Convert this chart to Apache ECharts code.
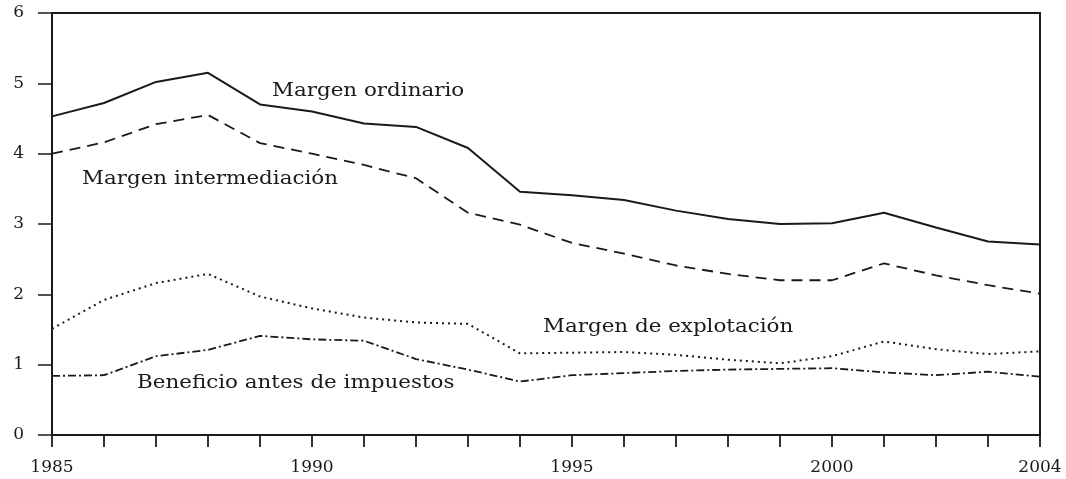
<!DOCTYPE html>
<html>
<head>
<meta charset="utf-8">
<script src="https://cdn.jsdelivr.net/npm/echarts@6/dist/echarts.min.js"></script>
<style>
html, body { margin: 0; padding: 0; background: #fff; }
#chart { width: 1066px; height: 479px; }
</style>
</head>
<body>
<div id="chart"></div>
<script>
const years = ['1985', '1986', '1987', '1988', '1989', '1990', '1991', '1992', '1993', '1994',
  '1995', '1996', '1997', '1998', '1999', '2000', '2001', '2002', '2003', '2004'];
const margenOrdinario = [4.53, 4.72, 5.02, 5.15, 4.70, 4.60, 4.43, 4.38, 4.08, 3.46,
  3.41, 3.34, 3.19, 3.07, 3.00, 3.01, 3.16, 2.95, 2.75, 2.71];
const margenIntermediacion = [4.00, 4.16, 4.42, 4.55, 4.15, 4.00, 3.84, 3.65, 3.16, 2.99,
  2.73, 2.58, 2.41, 2.29, 2.20, 2.20, 2.44, 2.27, 2.13, 2.01];
const margenExplotacion = [1.51, 1.92, 2.16, 2.29, 1.97, 1.80, 1.67, 1.60, 1.58, 1.16,
  1.17, 1.18, 1.14, 1.07, 1.02, 1.12, 1.33, 1.22, 1.15, 1.19];
const beneficioAntesImpuestos = [0.84, 0.85, 1.12, 1.21, 1.41, 1.36, 1.34, 1.08, 0.93, 0.76,
  0.85, 0.88, 0.91, 0.93, 0.94, 0.95, 0.89, 0.85, 0.90, 0.83];
const yTicks = [0, 1, 2, 3, 4, 5, 6];

const ink = '#1a1a1a';
const serif = 'DejaVu Serif';

const chart = echarts.init(document.getElementById('chart'));

function line(name, data, type, width) {
  return {
    name, type: 'line', data,
    symbol: 'none',
    lineStyle: { color: ink, width, type }
  };
}

// series names written straight on the plot, stretched a bit like the scan
function note(text, x, y) {
  return {
    type: 'text', x, y, scaleX: 1.19,
    style: { text, x: 0, y: 0, fill: ink, font: '18px "' + serif + '"', verticalAlign: 'top' }
  };
}

chart.setOption({
  animation: false,
  backgroundColor: '#fff',
  grid: {
    left: 52, right: 26, top: 13, bottom: 44,
    show: true, borderColor: ink, borderWidth: 2,
    outerBoundsMode: 'none'
  },
  xAxis: {
    type: 'category',
    data: years,
    boundaryGap: false,
    axisLine: { lineStyle: { color: ink, width: 2 } },
    axisTick: { show: true, interval: 0, length: 12, lineStyle: { color: ink, width: 1.8 } },
    axisLabel: {
      interval: (i) => i % 5 === 0 || i === years.length - 1,
      margin: 24, color: ink, fontFamily: serif, fontSize: 17
    },
    splitLine: { show: false }
  },
  yAxis: {
    type: 'value',
    min: yTicks[0], max: yTicks[yTicks.length - 1], interval: 1,
    axisLine: { show: true, lineStyle: { color: ink, width: 2 } },
    axisTick: { show: true, length: 14, lineStyle: { color: ink, width: 1.5 } },
    axisLabel: { margin: 28, color: ink, fontFamily: serif, fontSize: 17 },
    splitLine: { show: false }
  },
  graphic: [
    note('Margen ordinario', 272, 82),
    note('Margen intermediación', 82, 170),
    note('Margen de explotación', 543, 318),
    note('Beneficio antes de impuestos', 137, 374)
  ],
  series: [
    line('Margen ordinario', margenOrdinario, 'solid', 2),
    line('Margen intermediación', margenIntermediacion, [11, 7], 1.8),
    line('Margen de explotación', margenExplotacion, [2, 4], 2),
    line('Beneficio antes de impuestos', beneficioAntesImpuestos, [8, 3, 2, 3], 1.8)
  ]
});

window.addEventListener('resize', () => chart.resize());
</script>
</body>
</html>
